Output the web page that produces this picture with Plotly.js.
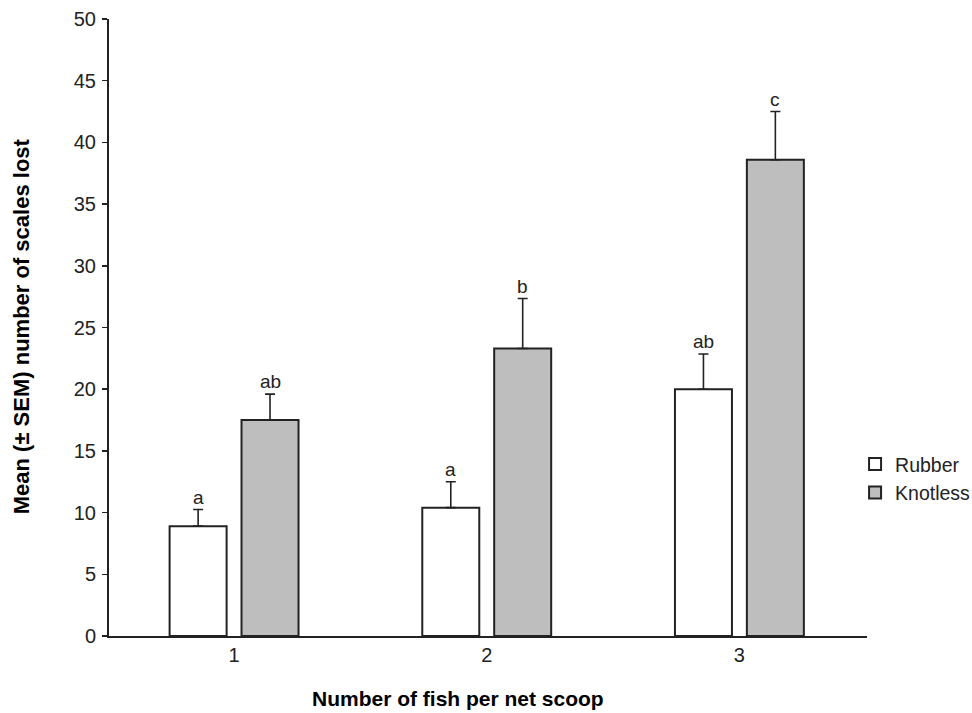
<!DOCTYPE html>
<html>
<head>
<meta charset="utf-8">
<script src="https://cdn.plot.ly/plotly-3.0.1.min.js"></script>
<style>html,body{margin:0;padding:0;background:#fff;}#chart{width:972px;height:713px;}</style>
</head>
<body>
<div id="chart"></div>
<script>
// ---- data ----
const categories = [1, 2, 3];
const tickLabels = ['1', '2', '3'];
const rubberMean = [8.9, 10.4, 20.0];
const rubberSEM = [1.35, 2.1, 2.85];
const knotlessMean = [17.5, 23.3, 38.6];
const knotlessSEM = [2.1, 4.05, 3.9];
const rubberLetters = ['a', 'a', 'ab'];
const knotlessLetters = ['ab', 'b', 'c'];
const seriesNames = ['Rubber', 'Knotless'];
const xTitle = 'Number of fish per net scoop';
const yTitle = 'Mean (± SEM) number of scales lost';

// ---- geometry (axis units) ----
const barW = 0.2256;
const gap = 0.059;
const rubberOffset = -(barW + gap / 2);
const knotOffset = gap / 2;

const lineCol = '#222222';
const font = 'Liberation Sans, Arial, Helvetica, sans-serif';

const traces = [
  {
    type: 'bar', name: seriesNames[0], x: categories, y: rubberMean,
    width: barW, offset: rubberOffset,
    marker: {color: '#ffffff', line: {color: lineCol, width: 2}},
    error_y: {type: 'data', symmetric: false, array: rubberSEM, arrayminus: rubberSEM.map(() => 0),
      color: lineCol, thickness: 1.6, width: 5}
  },
  {
    type: 'bar', name: seriesNames[1], x: categories, y: knotlessMean,
    width: barW, offset: knotOffset,
    marker: {color: '#bebebe', line: {color: lineCol, width: 2}},
    error_y: {type: 'data', symmetric: false, array: knotlessSEM, arrayminus: knotlessSEM.map(() => 0),
      color: lineCol, thickness: 1.6, width: 5}
  }
];

const annotations = [];
categories.forEach((c, i) => {
  annotations.push({x: c + rubberOffset + barW / 2, y: rubberMean[i] + rubberSEM[i], xref: 'x', yref: 'y',
    text: rubberLetters[i], showarrow: false, yanchor: 'bottom', yshift: 0,
    font: {family: font, size: 19, color: lineCol}});
  annotations.push({x: c + knotOffset + barW / 2, y: knotlessMean[i] + knotlessSEM[i], xref: 'x', yref: 'y',
    text: knotlessLetters[i], showarrow: false, yanchor: 'bottom', yshift: 0,
    font: {family: font, size: 19, color: lineCol}});
});
annotations.push({text: '<b>' + xTitle + '</b>', xref: 'paper', yref: 'paper', x: 0.4604, y: -0.1239,
  xanchor: 'center', yanchor: 'bottom', showarrow: false, font: {family: font, size: 21, color: '#000'}});
annotations.push({text: '<b>' + yTitle + '</b>', xref: 'paper', yref: 'paper', x: -0.1161, y: 0.502,
  xanchor: 'center', yanchor: 'middle', textangle: -90, showarrow: false, font: {family: font, size: 22, color: '#000'}});

const layout = {
  width: 972, height: 713,
  margin: {l: 109, r: 105, t: 19, b: 77, autoexpand: false},
  paper_bgcolor: '#ffffff', plot_bgcolor: '#ffffff',
  font: {family: font, color: lineCol, size: 20},
  showlegend: true,
  legend: {xref: 'container', yref: 'container', x: 0.8797, xanchor: 'left', y: 0.329, yanchor: 'middle',
    bgcolor: 'rgba(0,0,0,0)', font: {family: font, size: 19.5, color: lineCol}, itemwidth: 30},
  xaxis: {
    range: [0.505, 3.505], tickvals: categories, ticktext: tickLabels,
    showgrid: false, zeroline: false, showline: true, linecolor: lineCol, linewidth: 2,
    ticks: '', ticklabelstandoff: 0, tickfont: {family: font, size: 20, color: lineCol}
  },
  yaxis: {
    range: [0, 50], tickvals: [0,5,10,15,20,25,30,35,40,45,50],
    showgrid: false, zeroline: false, showline: true, linecolor: lineCol, linewidth: 2,
    ticks: 'outside', ticklen: 5, tickwidth: 1.5, tickcolor: lineCol, ticklabelstandoff: 2,
    tickfont: {family: font, size: 20, color: lineCol}
  },
  annotations: annotations
};

Plotly.newPlot('chart', traces, layout, {displayModeBar: false, staticPlot: true});
</script>
</body>
</html>
